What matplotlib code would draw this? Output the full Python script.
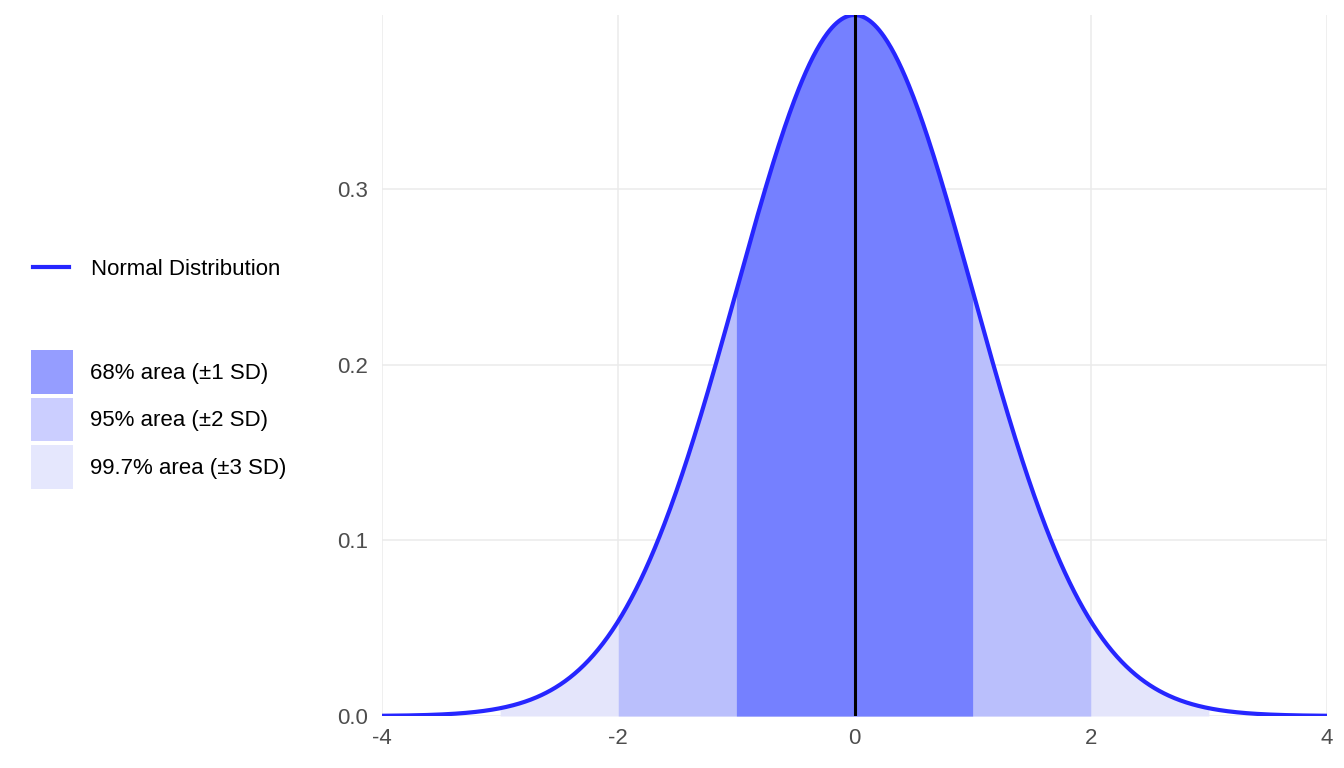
import numpy as np
import matplotlib.pyplot as plt
from matplotlib.lines import Line2D
from matplotlib.patches import Patch

plt.rcParams['font.family'] = ['Liberation Sans', 'DejaVu Sans']

# distribution parameters and shaded bands
mean = 0.0
sd = 1.0
band_sd = [3, 2, 1]
band_labels = ['99.7% area (\u00b13 SD)', '95% area (\u00b12 SD)', '68% area (\u00b11 SD)']
band_fill = ['#e4e5fb', '#babffc', '#7580ff']
band_key = ['#e5e7fd', '#cbceff', '#959dff']
x_ticks = [-4, -2, 0, 2, 4]
y_ticks = [0.0, 0.1, 0.2, 0.3]

line_color = '#2626ff'

x = np.linspace(mean - 4 * sd, mean + 4 * sd, 801)
pdf = np.exp(-0.5 * ((x - mean) / sd) ** 2) / (sd * np.sqrt(2 * np.pi))
peak = pdf.max()

fig = plt.figure(figsize=(13.44, 7.68), dpi=100)
ax = fig.add_axes([382 / 1344, 1 - 716 / 768, (1327 - 382) / 1344, (716 - 15) / 768])

for k, col in zip(band_sd, band_fill):
    m = (x >= mean - k * sd) & (x <= mean + k * sd)
    ax.fill_between(x[m], 0, pdf[m], color=col, lw=0, zorder=2)

ax.plot(x, pdf, color=line_color, lw=3.0, zorder=4, solid_capstyle='butt')
ax.plot([mean, mean], [0, peak], color='black', lw=2.2, zorder=5)

ax.set_xlim(-4, 4)
ax.set_ylim(0, peak)
ax.set_xticks(x_ticks)
ax.set_xticklabels([str(t) for t in x_ticks])
ax.set_yticks(y_ticks)
ax.set_yticklabels(['%.1f' % t for t in y_ticks])
ax.grid(True, color='#ebebeb', lw=1.1, zorder=0)
ax.set_axisbelow(True)
for s in ax.spines.values():
    s.set_visible(False)
ax.tick_params(length=0, labelsize=16, labelcolor='#4d4d4d')
ax.tick_params(axis='x', pad=9)
ax.tick_params(axis='y', pad=10)

# legends on the left
h1 = [Line2D([], [], color=line_color, lw=3.0)]
leg1 = fig.legend(h1, ['Normal Distribution'], loc='center left',
                  bbox_to_anchor=(33 / 1344, 1 - 269 / 768), frameon=False,
                  fontsize=16, handlelength=1.6, handletextpad=1.0,
                  borderpad=0, borderaxespad=0)
h2 = [Patch(facecolor=c, edgecolor='none') for c in band_key[::-1]]
leg2 = fig.legend(h2, band_labels[::-1], loc='upper left',
                  bbox_to_anchor=(31 / 1344, 1 - 350 / 768), frameon=False,
                  fontsize=16, handlelength=1.9, handleheight=2.65,
                  handletextpad=0.75, labelspacing=0.17,
                  borderpad=0, borderaxespad=0)

fig.savefig('out.png', dpi=100)
